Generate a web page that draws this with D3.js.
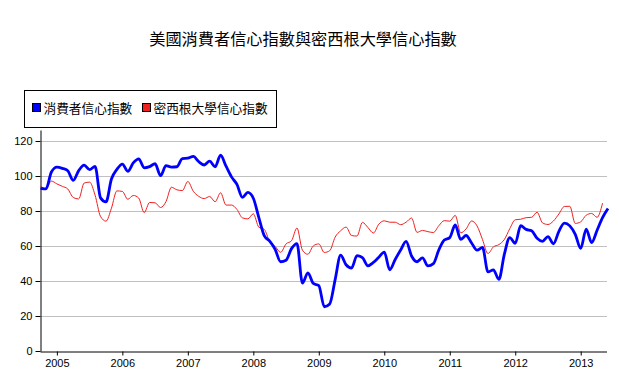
<!DOCTYPE html>
<html>
<head>
<meta charset="utf-8">
<script src="https://cdn.jsdelivr.net/npm/d3@7"></script>
<style>
  body { margin: 0; background: #fff; }
  svg text { font-family: Arial, "Liberation Sans", sans-serif; }
  .cjk { font-family: "Noto Sans CJK TC", "Noto Sans CJK SC", sans-serif; }
</style>
</head>
<body>
<div id="chart"></div>
<script>
// monthly values, first month = Oct 2004
const startYear = 2004, startMonth = 9;
const consumerConf = [
  92.9, 92.6, 102.3,
  105.1, 104.4, 103.0, 97.5, 103.1, 106.2, 103.6, 105.5, 87.5, 85.2, 98.3, 103.8,
  106.8, 102.7, 107.5, 109.8, 104.7, 105.4, 107.0, 100.2, 105.9, 105.1, 105.3, 110.0,
  110.2, 111.2, 108.2, 106.3, 108.5, 105.3, 111.9, 105.6, 99.5, 95.2, 87.8, 90.6,
  87.3, 76.4, 65.9, 62.8, 58.1, 51.0, 51.9, 58.5, 61.4, 38.8, 44.7, 38.6,
  37.4, 25.3, 26.9, 40.8, 54.8, 49.3, 47.4, 54.5, 53.4, 48.7, 50.6, 53.6,
  56.5, 46.4, 52.3, 57.7, 62.7, 54.3, 51.0, 53.2, 48.6, 49.9, 57.8, 63.4,
  64.8, 72.0, 63.8, 66.0, 61.7, 57.6, 59.2, 45.2, 46.4, 40.9, 55.2, 64.8,
  61.5, 71.6, 69.5, 68.7, 64.4, 62.7, 65.4, 61.3, 68.4, 73.1, 71.5, 66.7,
  58.6, 69.6, 61.9, 69.0, 76.2, 81.4
];
const michigan = [
  94.2, 92.8, 97.1,
  95.5, 94.1, 92.6, 87.7, 86.9, 96.0, 96.5, 89.1, 76.9, 74.2, 81.6, 91.5,
  91.2, 86.7, 88.9, 87.4, 79.1, 84.9, 84.7, 82.0, 85.4, 93.6, 92.1, 91.7,
  96.9, 91.3, 88.4, 87.1, 88.3, 85.3, 90.4, 83.4, 83.4, 80.9, 76.1, 75.5,
  78.4, 70.8, 69.5, 62.6, 59.8, 56.4, 61.2, 63.0, 70.3, 57.6, 55.3, 60.1,
  61.2, 56.3, 57.3, 65.1, 68.7, 70.8, 66.0, 65.7, 73.5, 70.6, 67.4, 72.5,
  74.4, 73.6, 73.6, 72.2, 73.6, 76.0, 67.8, 68.9, 68.2, 67.7, 71.6, 74.5,
  74.2, 77.5, 67.5, 69.8, 74.3, 71.5, 63.7, 55.7, 59.5, 60.8, 63.7, 69.9,
  75.0, 75.3, 76.2, 76.4, 79.3, 73.2, 72.3, 74.3, 78.3, 82.6, 82.7, 72.9,
  73.8, 77.6, 78.6, 76.4, 84.5
];
const yearTicks = [2005, 2006, 2007, 2008, 2009, 2010, 2011, 2012, 2013];
const yTicks = [0, 20, 40, 60, 80, 100, 120];
const titleText = "美國消費者信心指數與密西根大學信心指數";
const seriesNames = ["消費者信心指數", "密西根大學信心指數"];
const seriesColors = ["#0000ff", "#f02020"];

const width = 619, height = 376;
const svg = d3.select("#chart").append("svg")
  .attr("width", width).attr("height", height);

const x = d3.scaleLinear().domain([2004.75, 2013 + 5 / 12]).range([40.5, 608]);
const y = d3.scaleLinear().domain([0, 126.3]).range([351, 130]);
const xEnd = 607;

function toPoints(vals) {
  return vals.map((v, i) => ({t: startYear + (startMonth + i) / 12, v: v}));
}

// title
svg.append("text").attr("class", "cjk")
  .attr("x", 303).attr("y", 45)
  .attr("text-anchor", "middle")
  .style("font-size", "16.2px").style("fill", "#000")
  .text(titleText);

// legend
const lg = svg.append("g");
lg.append("rect").attr("x", 24.5).attr("y", 90.5).attr("width", 252).attr("height", 37)
  .attr("fill", "#fff").attr("stroke", "#000");
const legendX = [32.5, 142.5];
seriesNames.forEach((name, i) => {
  lg.append("rect").attr("x", legendX[i]).attr("y", 103.5).attr("width", 8).attr("height", 8)
    .attr("fill", seriesColors[i]).attr("stroke", "#000");
  lg.append("text").attr("class", "cjk")
    .attr("x", legendX[i] + 11).attr("y", 112.5)
    .style("font-size", "12.7px")
    .text(name);
});

// grid
svg.append("g").selectAll("line")
  .data(yTicks.filter(d => d > 0))
  .enter().append("line")
  .attr("x1", 41).attr("x2", xEnd)
  .attr("y1", d => Math.round(y(d)) + 0.5).attr("y2", d => Math.round(y(d)) + 0.5)
  .attr("stroke", "#c0c0c0").attr("stroke-width", 1);

// y axis
const yAxis = svg.append("g").attr("transform", "translate(40.5,0)")
  .call(d3.axisLeft(y).tickValues(yTicks).tickSize(5).tickPadding(3).tickSizeOuter(0));
yAxis.select(".domain").attr("stroke", "#000");
yAxis.selectAll("text").style("font-size", "11px").attr("fill", "#000")
  .style("font-family", "Arial, 'Liberation Sans', sans-serif");

// x axis
const xAxis = svg.append("g").attr("transform", "translate(0,351.5)")
  .call(d3.axisBottom(x).tickValues(yearTicks).tickFormat(d3.format("d")).tickSize(4).tickPadding(4).tickSizeOuter(0));
xAxis.select(".domain").attr("d", `M40.5,0.5H${xEnd}`).attr("stroke", "#000");
xAxis.selectAll("text").style("font-size", "11px").attr("fill", "#000")
  .style("font-family", "Arial, 'Liberation Sans', sans-serif");

// lines
const line = d3.line().x(d => x(d.t)).y(d => y(d.v)).curve(d3.curveMonotoneX);

svg.append("path").datum(toPoints(michigan))
  .attr("d", line).attr("fill", "none")
  .attr("stroke", seriesColors[1]).attr("stroke-width", 1);

svg.append("path").datum(toPoints(consumerConf))
  .attr("d", line).attr("fill", "none")
  .attr("stroke", seriesColors[0]).attr("stroke-width", 2.8);
</script>
</body>
</html>
